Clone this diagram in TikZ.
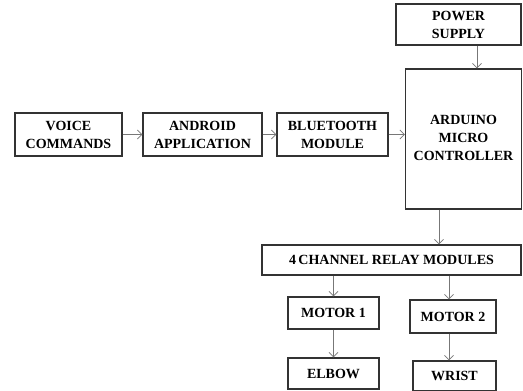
\documentclass[tikz,border=0pt]{standalone}
\usepackage{fontspec}
\setmainfont{Liberation Serif}[BoldFont={Liberation Serif Bold}]
\usetikzlibrary{arrows.meta}
\definecolor{boxline}{HTML}{333333}
\definecolor{arrline}{HTML}{777777}
\begin{document}
\begin{tikzpicture}[x=1pt,y=-1pt,
  blk/.style={draw=boxline,line width=1.1pt,rectangle,inner sep=0pt,align=center,
    font=\fontsize{14}{18}\selectfont\bfseries},
  flow/.style={draw=arrline,line width=0.8pt,-{Straight Barb[length=4.5pt,width=9pt]}}]
\useasboundingbox[fill=white] (0,0) rectangle (523,391);
\node[blk,minimum width=107pt,minimum height=43pt] (voice) at (68.5,134.5) {VOICE\\COMMANDS};
\node[blk,minimum width=119pt,minimum height=43pt] (android) at (202.5,134.5) {ANDROID\\APPLICATION};
\node[blk,minimum width=111pt,minimum height=43pt] (bt) at (332.5,134.5) {BLUETOOTH\\MODULE};
\node[blk,minimum width=125pt,minimum height=41pt] (power) at (458.5,24.5) {POWER\\SUPPLY};
\node[blk,minimum width=116pt,minimum height=140pt] (ard) at (463.5,139) {\raisebox{7pt}{\begin{tabular}{@{}c@{}}ARDUINO\\MICRO\\CONTROLLER\end{tabular}}};
\node[blk,minimum width=259pt,minimum height=30pt] (relay) at (391.5,260) {4\,CHANNEL RELAY MODULES};
\node[blk,minimum width=91pt,minimum height=32pt] (m1) at (333.5,313) {MOTOR 1};
\node[blk,minimum width=86pt,minimum height=33pt] (m2) at (453,316.5) {MOTOR 2};
\node[blk,minimum width=91pt,minimum height=31pt] (elbow) at (333.5,373.5) {ELBOW};
\node[blk,minimum width=83pt,minimum height=30pt] (wrist) at (454.5,376) {WRIST};
\draw[flow] (voice.east) -- (android.west);
\draw[flow] (android.east) -- (bt.west);
\draw[flow] (bt.east) -- (ard.west |- bt.east);
\draw[flow] ([xshift=18.5pt]power.south) -- ([xshift=18.5pt]power.south |- ard.north);
\draw[flow] ([xshift=-24.5pt]ard.south) -- ([xshift=-24.5pt]ard.south |- relay.north);
\draw[flow] (relay.south -| m1.north) -- (m1.north);
\draw[flow] ([xshift=-4pt]relay.south -| m2.north) -- ([xshift=-4pt]m2.north);
\draw[flow] (m1.south) -- (elbow.north);
\draw[flow] ([xshift=-4pt]m2.south) -- ([xshift=-4pt]m2.south |- wrist.north);
\end{tikzpicture}
\end{document}
